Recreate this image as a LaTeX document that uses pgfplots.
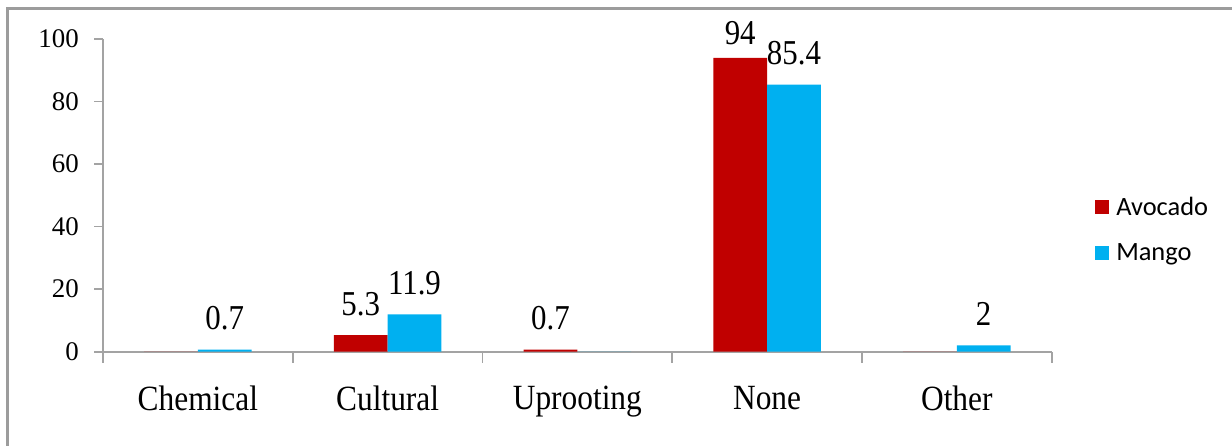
\documentclass[border=0pt]{standalone}
\usepackage{fontspec}
\setmainfont{Liberation Serif}
\newfontfamily\calibri{Carlito}
\usepackage{graphicx}
\usepackage{pgfplots}
\pgfplotsset{compat=1.18}

\definecolor{avocado}{HTML}{C00000}
\definecolor{mango}{HTML}{00B0F0}
\definecolor{axisgray}{HTML}{A3A3A3}
\definecolor{framegray}{HTML}{9C9C9C}

% taller serif text, as in the labels of the chart
\newcommand{\tall}[1]{\scalebox{1}[1.13]{#1}}
% square legend key
\pgfplotsset{square key/.style={/pgfplots/legend image code/.code={\fill[#1] (0bp,-7bp) rectangle (14bp,7bp);}}}

\begin{document}
\begin{tikzpicture}
\useasboundingbox (0,0) rectangle (1232bp,-446bp);
% outer chart frame (left and top edges fall inside the page)
\draw[framegray, line width=2.5bp] (1300bp,-8.5bp) -- (7.5bp,-8.5bp) -- (7.5bp,-500bp);
\begin{axis}[
  at={(103bp,-351.7bp)}, anchor=south west,
  scale only axis,
  width=948.7bp, height=312.7bp,
  ybar, bar width=0.283,
  xmin=-0.5, xmax=4.5,
  ymin=0, ymax=100,
  axis lines*=left,
  axis line style={draw=axisgray, line width=1.6bp, -},
  tick style={draw=axisgray, line width=1.6bp},
  tick align=outside,
  xtick={0,1,2,3,4},
  xticklabels={\tall{Chemical},\tall{Cultural},\tall{Uprooting},\tall{None},\tall{Other}},
  major x tick style={draw=none},
  minor xtick={-0.5,0.5,1.5,2.5,3.5,4.5},
  minor tick length=11bp,
  ytick={0,20,40,60,80,100},
  major tick length=9bp,
  /pgf/number format/assume math mode=true,
  ticklabel style={font=\fontsize{27}{30}\selectfont},
  xticklabel style={font=\fontsize{31.5}{34}\selectfont, inner sep=0pt, anchor=north, yshift=-25bp},
  yticklabel style={inner sep=0pt, anchor=east, xshift=-15bp},
  visualization depends on={rawy \as \rawy},
  nodes near coords={\pgfmathfloatifflags{\pgfplotspointmeta}{0}{}{\tall{\pgfmathprintnumber{\pgfplotspointmeta}}}},
  every node near coord/.append style={font=\fontsize{31}{34}\selectfont, anchor=south, inner sep=0pt, yshift={19.5-7*(\rawy>90)}},
  legend style={draw=none, fill=none, at={(rel axis cs:1.0457,0.391)}, anchor=west,
    font=\calibri\fontsize{26.5}{30}\selectfont, row sep=27bp, inner sep=0pt,
    nodes={inner xsep=7bp, inner ysep=0pt}},
  legend cell align=left,
]
\addplot[fill=avocado, draw=none, bar shift=-0.1415, square key=avocado] coordinates {(0,0) (1,5.3) (2,0.7) (3,94) (4,0)};
\addplot[fill=mango, draw=none, bar shift=0.1415, square key=mango] coordinates {(0,0.7) (1,11.9) (2,0) (3,85.4) (4,2)};
\legend{Avocado,Mango}
\end{axis}
\end{tikzpicture}
\end{document}
